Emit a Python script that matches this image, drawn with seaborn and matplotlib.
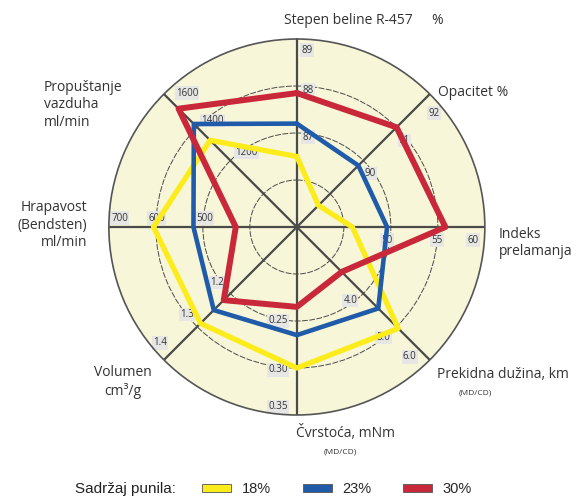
import numpy as np
import pandas as pd
import matplotlib
matplotlib.use("Agg")
import matplotlib.pyplot as plt
from matplotlib.patches import Patch
import seaborn as sns

# axes, clockwise from the top
AXES = ["Stepen beline", "Opacitet", "Indeks prelamanja", "Prekidna dužina",
        "Čvrstoća", "Volumen", "Hrapavost", "Propuštanje vazduha"]
# value at ring 2 and step per ring, per axis
RING2 = [87, 90, 50, 4.0, 0.25, 1.2, 500, 1200]
STEP = [1, 1, 5, 1.0, 0.05, 0.1, 100, 200]
TICKS = [["87", "88", "89"], ["90", "91", "92"], ["50", "55", "60"],
         ["4.0", "5.0", "6.0"], ["0.25", "0.30", "0.35"], ["1.2", "1.3", "1.4"],
         ["500", "600", "700"], ["1200", "1400", "1600"]]

SERIES = ["18%", "23%", "30%"]
val_18 = [86.5, 88.65, 45.9, 5.05, 0.300, 1.29, 605, 1322]
val_23 = [87.2, 89.85, 49.6, 4.45, 0.265, 1.25, 520, 1420]
val_30 = [87.85, 91.0, 55.8, 3.35, 0.235, 1.22, 430, 1512]

COLORS = {"18%": "#fcec1c", "23%": "#1f5ba8", "30%": "#c8283a"}

sns.set_theme(style="white")
plt.rcParams["font.family"] = ["Open Sans", "DejaVu Sans"]

n = len(AXES)
theta = np.arange(n) * 2 * np.pi / n


def to_r(vals):
    return [2 + (v - b) / s for v, b, s in zip(vals, RING2, STEP)]


rows = []
for name, vals in zip(SERIES, [val_18, val_23, val_30]):
    r = to_r(vals)
    for t, rv in zip(list(theta) + [2 * np.pi], r + [r[0]]):
        rows.append({"theta": t, "r": rv, "series": name})
df = pd.DataFrame(rows)

fig = plt.figure(figsize=(5.79, 4.97), dpi=100)
ax = fig.add_axes([0.188, 0.165, 0.6494, 0.7565], projection="polar")
ax.set_theta_zero_location("N")
ax.set_theta_direction(-1)
ax.set_facecolor("#f7f6d8")
ax.set_ylim(0, 4)

ax.set_xticks(theta)
ax.set_xticklabels([])
ax.set_yticks([1, 2, 3])
ax.set_yticklabels([])
ax.xaxis.grid(True, color="#4a4a4a", lw=1.6, ls="-")
ax.yaxis.grid(True, color="#4a4a4a", lw=0.7, ls=(0, (6, 1.5)))
ax.spines["polar"].set_color("#555555")
ax.spines["polar"].set_linewidth(1.2)

for i, name in enumerate(SERIES):
    sns.lineplot(data=df[df["series"] == name], x="theta", y="r", sort=False,
                 estimator=None, color=COLORS[name], lw=[3.8, 3.3, 4.3][i],
                 ax=ax, zorder=3 + i, legend=False)
ax.set_xlabel("")
ax.set_ylabel("")

# tick label offsets in pixels (dx right, dy down) for rings 2, 3, 4
OFFS = [[(11, 4), (11, 4), (10, 11)],
        [(7, 13), (8, 13), (4, 19)],
        [(-4, 13), (-1, 13), (-12, 13)],
        [(-13, 7), (-13, 11), (-20, -3)],
        [(-19, 0), (-19, 2), (-19, -8)],
        [(-13, -11), (-10, -12), (-4, -17)],
        [(2, -9), (1, -9), (11, -9)],
        [(16, -8), (15, -7), (23, -1)]]
for i in range(n):
    for k in range(3):
        dx, dy = OFFS[i][k]
        ax.annotate(TICKS[i][k], xy=(theta[i], 2 + k), xytext=(dx * 0.72, -dy * 0.72),
                    textcoords="offset points", ha="center", va="center",
                    fontsize=7, color="#333333", zorder=2,
                    bbox=dict(boxstyle="square,pad=0.12", fc="#e6e6e4", ec="none"))

W, H = 579, 497


def ftext(x, y, s, **kw):
    kw.setdefault("fontsize", 10)
    kw.setdefault("color", "#333333")
    fig.text(x / W, 1 - y / H, s, **kw)


ftext(348, 20, "Stepen beline R-457", ha="center", va="center")
ftext(437, 21, "%", ha="center", va="center")
ftext(438, 93, "Opacitet %", ha="left", va="center")
ftext(499, 243, "Indeks\nprelamanja", ha="left", va="center", linespacing=1.2)
ftext(437, 375, "Prekidna dužina, km", ha="left", va="center")
ftext(475, 393, "(MD/CD)", ha="center", va="center", fontsize=6)
ftext(345, 433, "Čvrstoća, mNm", ha="center", va="center")
ftext(340, 452, "(MD/CD)", ha="center", va="center", fontsize=6)
ftext(123, 382, "Volumen\ncm³/g", ha="center", va="center", linespacing=1.3)
ftext(87, 225, "Hrapavost\n(Bendsten)\nml/min", ha="right", va="center", linespacing=1.2)
ftext(44, 105, "Propuštanje\nvazduha\nml/min", ha="left", va="center", linespacing=1.2)

ftext(125, 489, "Sadržaj punila:", ha="center", va="center", fontsize=11,
      family=["Liberation Sans", "DejaVu Sans"], color="#222222")
handles = [Patch(facecolor=COLORS[s], edgecolor="#555555", lw=0.6) for s in SERIES]
fig.legend(handles, SERIES, loc="center", bbox_to_anchor=(337 / W, 1 - 489 / H),
           ncol=3, frameon=False, handlelength=2.0, handleheight=0.45,
           handletextpad=0.7, columnspacing=2.2,
           prop={"family": ["Liberation Sans", "DejaVu Sans"], "size": 10.5})

fig.savefig("out.png", dpi=100)
